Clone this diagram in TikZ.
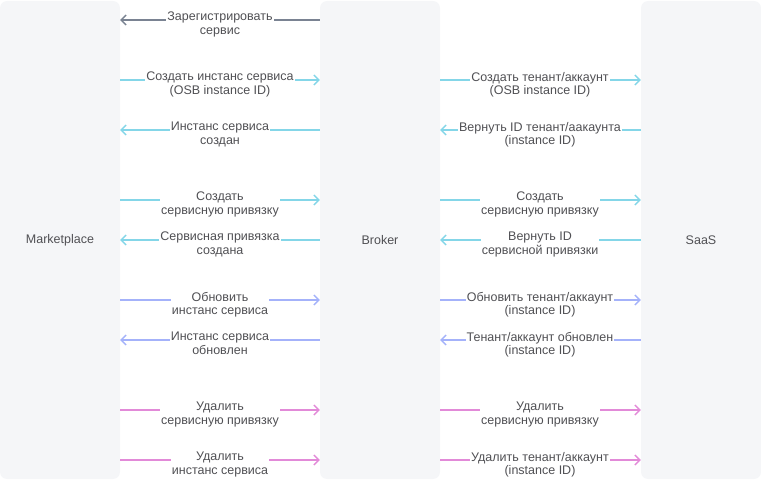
\documentclass[tikz,border=0pt]{standalone}
\usepackage{fontspec}
\setmainfont{Liberation Sans}
\usetikzlibrary{arrows.meta}
\definecolor{lanegray}{RGB}{245,246,248}
\definecolor{txtgray}{RGB}{80,80,84}
\definecolor{reggray}{RGB}{122,131,146}
\definecolor{createcyan}{RGB}{132,214,232}
\definecolor{updblue}{RGB}{164,178,250}
\definecolor{delpink}{RGB}{226,138,216}

\begin{document}
\begin{tikzpicture}[x=1pt,y=-1pt,
  lane/.style={fill=lanegray,rounded corners=7pt,minimum width=120pt,minimum height=478pt,
    inner sep=0pt,text=txtgray,font=\fontsize{12.5}{14}\selectfont},
  msg/.style={fill=white,inner sep=1pt,align=center,anchor=north,text=txtgray,
    font=\fontsize{12.5}{13.5}\selectfont},
  call/.style={line width=1.4pt,-{Straight Barb[length=5pt,width=10pt]}}]
  \useasboundingbox (0,0) rectangle (761,481);

  \node[lane] (mp) at (60,240) {Marketplace};
  \node[lane] (br) at (380,240) {Broker};
  \node[lane] (saas) at (701,240) {SaaS};

  % rows
  \coordinate (r1) at (0,20);
  \coordinate (r2) at (0,80);
  \coordinate (r3) at (0,130);
  \coordinate (r4) at (0,200);
  \coordinate (r5) at (0,240);
  \coordinate (r6) at (0,300);
  \coordinate (r7) at (0,340);
  \coordinate (r8) at (0,410);
  \coordinate (r9) at (0,460);

  % registration
  \draw[call,reggray] (br.west |- r1) -- (mp.east |- r1);
  \node[msg] (reg) at (220,11) {Зарегистрировать\\сервис};

  % create instance
  \draw[call,createcyan] (mp.east |- r2) -- (br.west |- r2);
  \node[msg] (mkinst) at (220,71) {Создать инстанс сервиса\\(OSB instance ID)};
  \draw[call,createcyan] (br.east |- r2) -- (saas.west |- r2);
  \node[msg] (mktenant) at (540,71) {Создать тенант/аккаунт\\(OSB instance ID)};

  \draw[call,createcyan] (br.west |- r3) -- (mp.east |- r3);
  \node[msg] (instdone) at (220,121) {Инстанс сервиса\\создан};
  \draw[call,createcyan] (saas.west |- r3) -- (br.east |- r3);
  \node[msg] (tenantid) at (540,121) {Вернуть ID тенант/аакаунта\\(instance ID)};

  % create binding
  \draw[call,createcyan] (mp.east |- r4) -- (br.west |- r4);
  \node[msg] (mkbind) at (220,191) {Создать\\сервисную привязку};
  \draw[call,createcyan] (br.east |- r4) -- (saas.west |- r4);
  \node[msg] (mkbind2) at (540,191) {Создать\\сервисную привязку};

  \draw[call,createcyan] (br.west |- r5) -- (mp.east |- r5);
  \node[msg] (binddone) at (220,231) {Сервисная привязка\\создана};
  \draw[call,createcyan] (saas.west |- r5) -- (br.east |- r5);
  \node[msg] (bindid) at (540,231) {Вернуть ID\\сервисной привязки};

  % update
  \draw[call,updblue] (mp.east |- r6) -- (br.west |- r6);
  \node[msg] (updinst) at (220,291) {Обновить\\инстанс сервиса};
  \draw[call,updblue] (br.east |- r6) -- (saas.west |- r6);
  \node[msg] (updtenant) at (540,291) {Обновить тенант/аккаунт\\(instance ID)};

  \draw[call,updblue] (br.west |- r7) -- (mp.east |- r7);
  \node[msg] (instupd) at (220,331) {Инстанс сервиса\\обновлен};
  \draw[call,updblue] (saas.west |- r7) -- (br.east |- r7);
  \node[msg] (tenantupd) at (540,331) {Тенант/аккаунт обновлен\\(instance ID)};

  % delete
  \draw[call,delpink] (mp.east |- r8) -- (br.west |- r8);
  \node[msg] (rmbind) at (220,401) {Удалить\\сервисную привязку};
  \draw[call,delpink] (br.east |- r8) -- (saas.west |- r8);
  \node[msg] (rmbind2) at (540,401) {Удалить\\сервисную привязку};

  \draw[call,delpink] (mp.east |- r9) -- (br.west |- r9);
  \node[msg] (rminst) at (220,451) {Удалить\\инстанс сервиса};
  \draw[call,delpink] (br.east |- r9) -- (saas.west |- r9);
  \node[msg] (rmtenant) at (540,451) {Удалить тенант/аккаунт\\(instance ID)};
\end{tikzpicture}
\end{document}
